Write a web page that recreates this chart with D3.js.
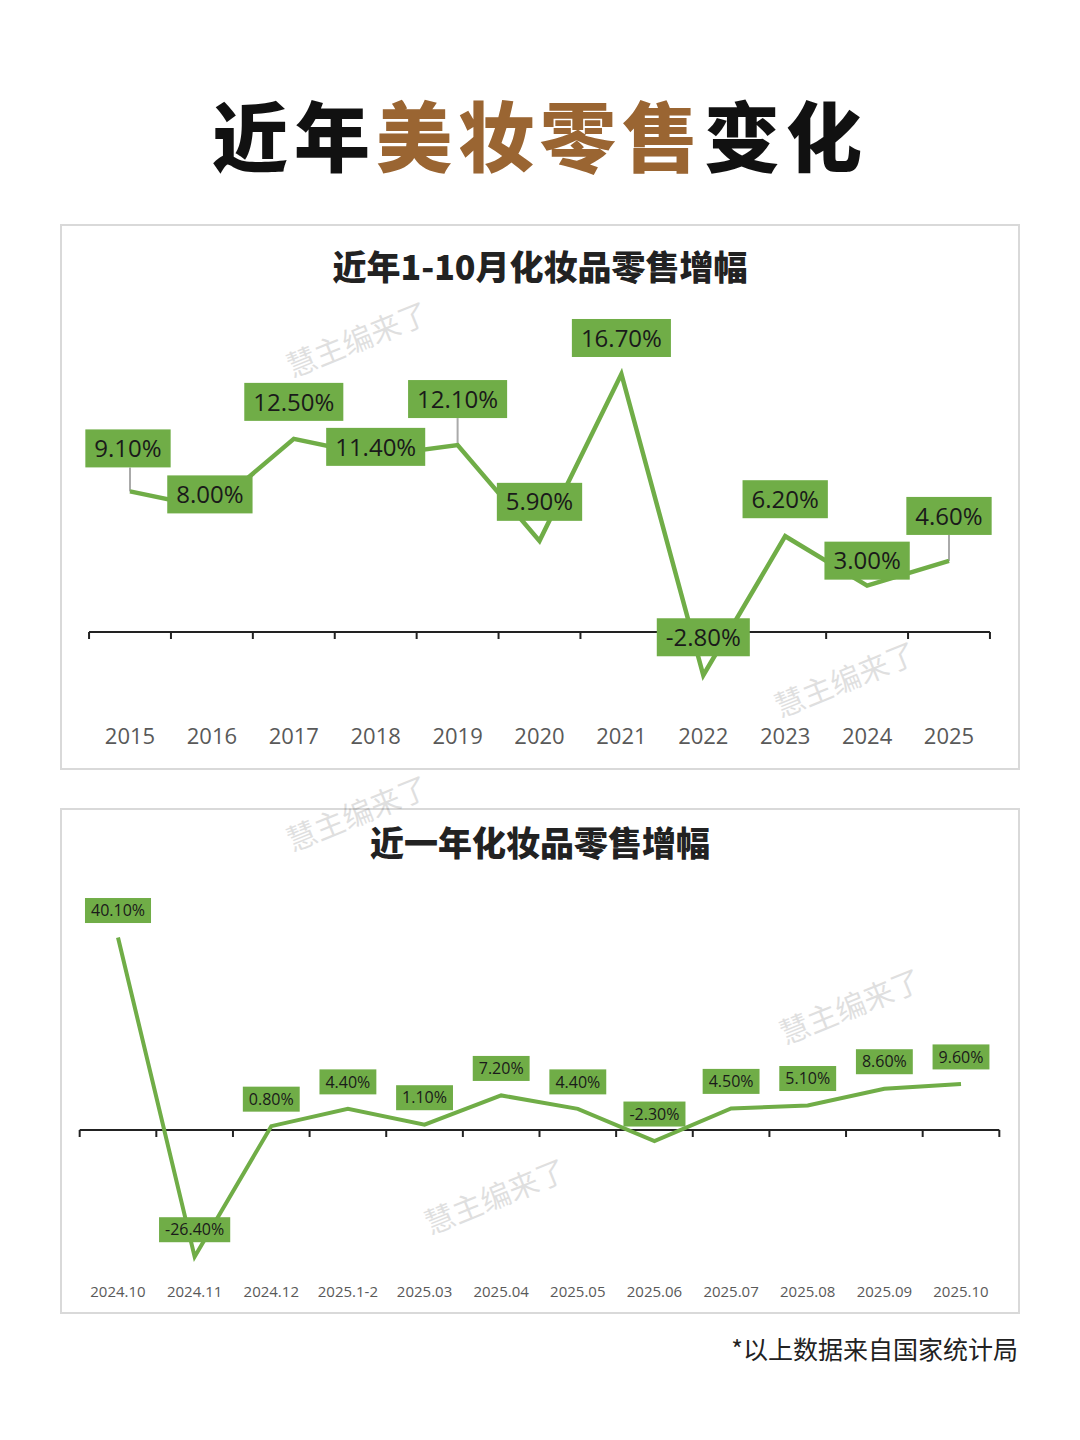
<!DOCTYPE html>
<html><head><meta charset="utf-8">
<script src="https://cdn.jsdelivr.net/npm/d3@7/dist/d3.min.js"></script>
<style>body{margin:0;background:#fff}svg{display:block;font-family:"Noto Sans CJK SC","Noto Sans",sans-serif}</style>
</head><body><svg id="c" width="1080" height="1440"></svg>
<script>
const years = ["2015","2016","2017","2018","2019","2020","2021","2022","2023","2024","2025"];
const yearValues = [9.1,8.0,12.5,11.4,12.1,5.9,16.7,-2.8,6.2,3.0,4.6];
const yearLabelDy = [-43,-14,-37,-9,-46,-39,-36,-38,-37,-25,-45];
const yearLabelDx = [-2,-2,0,0,0,0,0,0,0,0,0];
const months = ["2024.10","2024.11","2024.12","2025.1-2","2025.03","2025.04","2025.05","2025.06","2025.07","2025.08","2025.09","2025.10"];
const monthValues = [40.1,-26.4,0.8,4.4,1.1,7.2,4.4,-2.3,4.5,5.1,8.6,9.6];

const svg = d3.select("#c");
const green = "#70ad47";
const t = svg.append("text").attr("x",540).attr("y",166).attr("text-anchor","middle")
  .attr("font-size",76).attr("font-weight",900).attr("letter-spacing",6);
t.append("tspan").text("近年").attr("fill","#111");
t.append("tspan").text("美妆零售").attr("fill","#9a6532");
t.append("tspan").text("变化").attr("fill","#111");

function panel(y0,h){svg.append("rect").attr("x",61).attr("y",y0).attr("width",958).attr("height",h).attr("fill","#fff").attr("stroke","#d9d9d9").attr("stroke-width",2);}
function wm(x,y){svg.append("text").attr("transform",`translate(${x},${y}) rotate(-22)`).attr("font-size",30).attr("fill","#000").attr("opacity",0.12).text("慧主编来了");}

function chart(o){
  panel(o.y0,o.h);
  svg.append("text").attr("x",540).attr("y",o.titleY).attr("text-anchor","middle").attr("font-size",o.titleSize).attr("font-weight",900).attr("fill","#222").text(o.title);
  const x = d3.scalePoint().domain(o.cats).range([o.x0,o.x1]);
  const y = d3.scaleLinear().domain([0,o.vmax]).range([o.zeroY,o.zeroY-o.vmax*o.k]);
  const step = x.step();
  const ticksX = d3.range(o.cats.length+1).map(i=>o.x0-step/2+i*step);
  svg.append("line").attr("x1",ticksX[0]).attr("x2",ticksX[ticksX.length-1]).attr("y1",o.zeroY).attr("y2",o.zeroY).attr("stroke","#222").attr("stroke-width",2);
  svg.selectAll(null).data(ticksX).join("line").attr("x1",d=>d).attr("x2",d=>d).attr("y1",o.zeroY).attr("y2",o.zeroY+7).attr("stroke","#222").attr("stroke-width",2);
  svg.selectAll(null).data(o.cats).join("text").attr("x",d=>x(d)).attr("y",o.tickY).attr("text-anchor","middle").attr("font-size",o.tickSize).attr("fill","#595959").attr("font-family","Open Sans, sans-serif").text(d=>d);
  const data = o.cats.map((c,i)=>({c,v:o.vals[i],dx:o.dx?o.dx[i]:0,dy:o.dy?o.dy[i]:o.dyc}));
  data.forEach(d=>{ if(d.dy < -42){ svg.append("line").attr("x1",x(d.c)).attr("x2",x(d.c)).attr("y1",y(d.v)).attr("y2",y(d.v)+d.dy+o.bh/2).attr("stroke","#aaa").attr("stroke-width",2);} });
  svg.append("path").datum(data).attr("d",d3.line().x(d=>x(d.c)).y(d=>y(d.v))).attr("fill","none").attr("stroke",green).attr("stroke-width",o.lw).attr("stroke-linejoin","miter");
  data.forEach(d=>{
    const lbl = d.v.toFixed(2)+"%";
    const cx = x(d.c)+d.dx, cy = y(d.v)+d.dy;
    const g = svg.append("g");
    const tx = g.append("text").attr("x",cx).attr("y",cy).attr("dy","0.36em").attr("text-anchor","middle").attr("font-size",o.fs).attr("fill","#1a1a1a").attr("font-family","Open Sans, sans-serif").text(lbl);
    const w = tx.node().getComputedTextLength()+o.pad*2;
    g.insert("rect","text").attr("x",cx-w/2).attr("y",cy-o.bh/2).attr("width",w).attr("height",o.bh).attr("fill",green);
  });
}
chart({y0:225,h:544,title:"近年1-10月化妆品零售增幅",titleY:280,titleSize:34,cats:years,vals:yearValues,dy:yearLabelDy,dx:yearLabelDx,
  x0:130,x1:949,zeroY:632,k:15.45,vmax:20,tickY:744,tickSize:22,fs:24,bh:38,pad:9,lw:4.5});
chart({y0:809,h:504,title:"近一年化妆品零售增幅",titleY:856,titleSize:34,cats:months,vals:monthValues,dyc:-27,
  x0:118,x1:961,zeroY:1130,k:4.8,vmax:45,tickY:1297,tickSize:15,fs:16,bh:25,pad:6,lw:4});
wm(292,378);wm(780,718);wm(292,852);wm(785,1045);wm(430,1235);
svg.append("text").attr("x",1018).attr("y",1359).attr("text-anchor","end").attr("font-size",25).attr("fill","#222").text("*以上数据来自国家统计局");
</script></body></html>
